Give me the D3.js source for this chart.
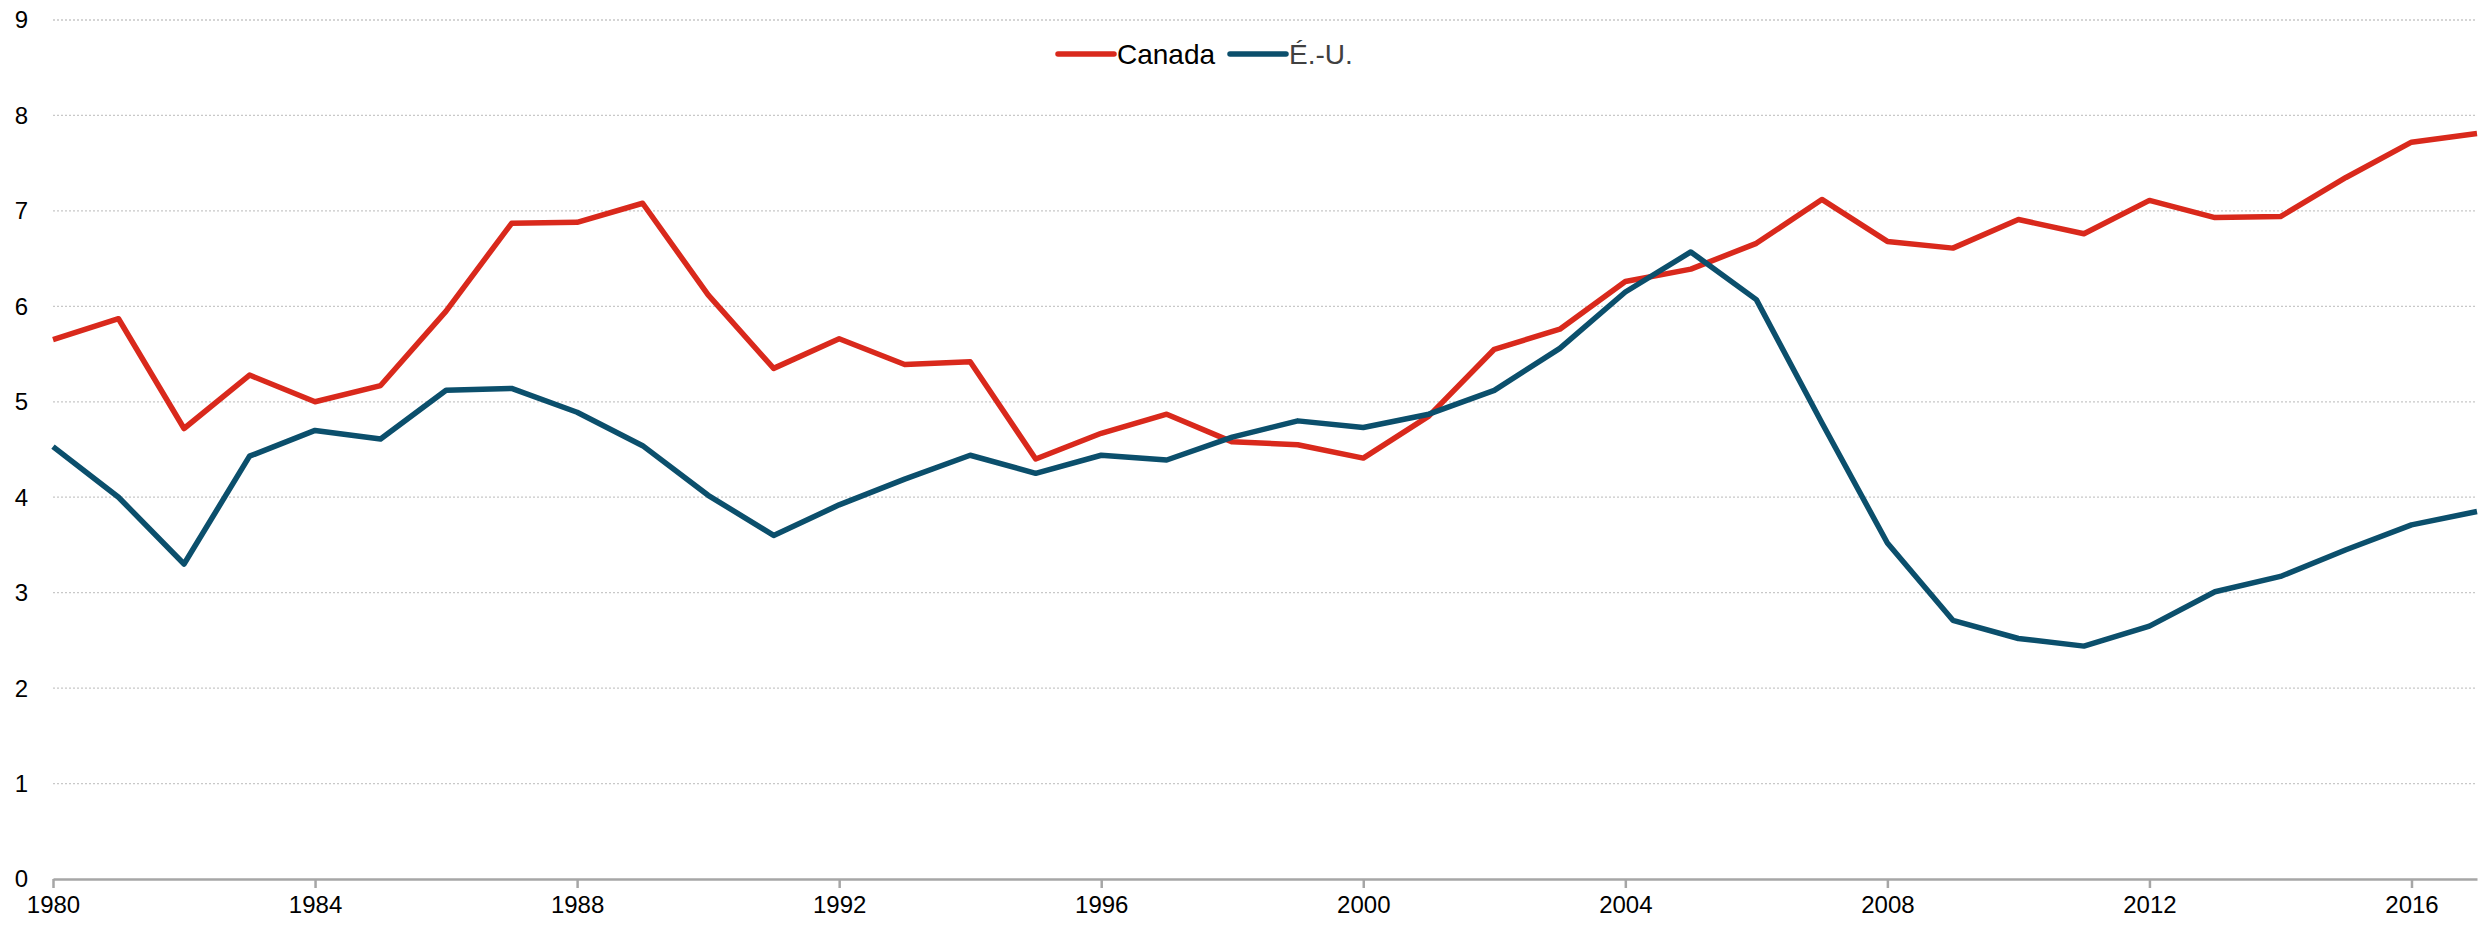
<!DOCTYPE html>
<html>
<head>
    <title>Canada vs É.-U.</title>
    <script src="https://cdn.jsdelivr.net/npm/d3@7"></script>
    <style>
        body { margin: 0; background: #fff; }
        text { font-family: "Liberation Sans", Arial, sans-serif; }
    </style>
</head>
<body>
    <div id="chart"></div>
    <script type="text/javascript">
        var years = d3.range(1980, 2018);

        var canada = [5.65, 5.87, 4.72, 5.28, 5.00, 5.17, 5.95, 6.87, 6.88, 7.08,
                      6.12, 5.35, 5.66, 5.39, 5.42, 4.40, 4.67, 4.87, 4.58, 4.55,
                      4.41, 4.85, 5.55, 5.76, 6.26, 6.39, 6.66, 7.12, 6.68, 6.61,
                      6.91, 6.76, 7.11, 6.93, 6.94, 7.35, 7.72, 7.81];

        var usa = [4.53, 4.00, 3.30, 4.43, 4.70, 4.61, 5.12, 5.14, 4.89, 4.54,
                   4.02, 3.60, 3.92, 4.19, 4.44, 4.25, 4.44, 4.39, 4.63, 4.80,
                   4.73, 4.87, 5.12, 5.56, 6.15, 6.57, 6.07, 4.78, 3.52, 2.71,
                   2.52, 2.44, 2.65, 3.01, 3.17, 3.45, 3.71, 3.85];

        var xTicks = [1980, 1984, 1988, 1992, 1996, 2000, 2004, 2008, 2012, 2016];
        var yTicks = [0, 1, 2, 3, 4, 5, 6, 7, 8, 9];

        var seriesNames = ["Canada", "É.-U."];
        var seriesColors = ["#d9291c", "#0b4f6c"];

        var width = 2486;
        var height = 929;
        var margin = {left: 53, right: 9, top: 20, bottom: 50};

        var xScale = d3.scaleLinear()
            .domain([1980, 2017])
            .range([margin.left, width - margin.right]);

        var yScale = d3.scaleLinear()
            .domain([0, 9])
            .range([height - margin.bottom, margin.top]);

        var svg = d3.select("#chart").append("svg")
            .attr('width', width)
            .attr('height', height)
            .style('background', '#fff');

        // gridlines
        svg.append("g").selectAll("line")
            .data(yTicks.filter(function(d) { return d > 0; }))
            .enter().append("line")
                .attr('x1', margin.left)
                .attr('x2', width - margin.right)
                .attr('y1', function(d) { return yScale(d); })
                .attr('y2', function(d) { return yScale(d); })
                .style('stroke', '#c8c8c8')
                .style('stroke-width', 1.3)
                .style('stroke-dasharray', '2,2');

        // y labels
        svg.append("g").selectAll("text")
            .data(yTicks)
            .enter().append("text")
                .attr('x', 28)
                .attr('y', function(d) { return yScale(d); })
                .attr('dy', '0.35em')
                .attr('text-anchor', 'end')
                .style('font-size', '24px')
                .style('fill', '#000')
                .text(function(d) { return d; });

        // x axis
        var xAxis = d3.axisBottom(xScale)
            .tickValues(xTicks)
            .tickFormat(d3.format('d'))
            .tickSize(9)
            .tickSizeOuter(0)
            .tickPadding(8);

        var gx = svg.append("g")
            .attr('transform', 'translate(0,' + yScale(0) + ')')
            .call(xAxis);
        gx.select('.domain').style('stroke', '#a6a6a6').style('stroke-width', 2.5);
        gx.selectAll('.tick line').style('stroke', '#a6a6a6').style('stroke-width', 2.5);
        gx.selectAll('.tick text')
            .style('font-size', '24px')
            .style('font-family', '"Liberation Sans", Arial, sans-serif')
            .style('fill', '#000');

        // lines
        var line = d3.line()
            .x(function(d, i) { return xScale(years[i]); })
            .y(function(d) { return yScale(d); });

        [canada, usa].forEach(function(s, k) {
            svg.append("path")
                .datum(s)
                .attr('d', line)
                .style('fill', 'none')
                .style('stroke', seriesColors[k])
                .style('stroke-width', 5.5)
                .style('stroke-linejoin', 'round');
        });

        // legend
        var legendX = [1058, 1230];
        var legendTextColor = ['#000', '#404040'];
        var legend = svg.append("g").selectAll("g")
            .data(seriesNames)
            .enter().append("g")
                .attr('transform', function(d, i) { return 'translate(' + legendX[i] + ',54)'; });
        legend.append("line")
            .attr('x1', 0).attr('x2', 56)
            .attr('y1', 0).attr('y2', 0)
            .style('stroke', function(d, i) { return seriesColors[i]; })
            .style('stroke-width', 5.5)
            .style('stroke-linecap', 'round');
        legend.append("text")
            .attr('x', 59)
            .attr('y', 0)
            .attr('dy', '0.36em')
            .style('font-size', '28px')
            .style('fill', function(d, i) { return legendTextColor[i]; })
            .text(function(d) { return d; });
    </script>
</body>
</html>
